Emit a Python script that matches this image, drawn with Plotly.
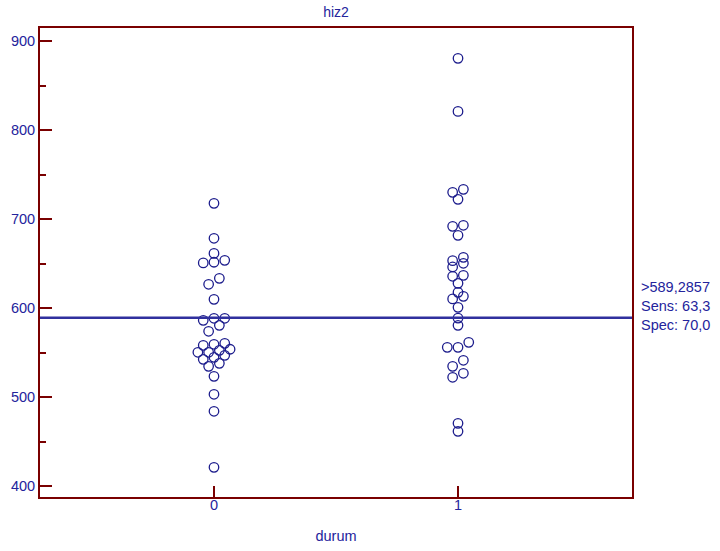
import plotly.graph_objects as go

# ---- data ----
categories = ["0", "1"]
group0_values = [718.0, 678.7, 661.8, 653.9, 651.8, 651.0, 633.7, 627.0, 610.1,
                 588.8, 588.8, 586.5, 580.9, 574.2, 560.7, 559.6, 558.4, 554.0,
                 552.8, 550.6, 550.6, 547.2, 544.9, 542.7, 538.2, 534.8, 523.6,
                 503.4, 484.3, 421.3]
group1_values = [880.9, 821.3, 733.7, 730.3, 722.5, 693.3, 692.1, 682.0, 657.3,
                 653.6, 650.6, 646.5, 637.1, 636.0, 628.1, 618.0, 613.5, 610.6,
                 601.1, 589.0, 580.9, 561.8, 556.2, 556.2, 541.6, 534.8, 527.0,
                 522.5, 470.8, 461.8]
criterion = 589.2857
y_ticks = [400, 500, 600, 700, 800, 900]

# ---- statistics for the label ----
sens = 100.0 * sum(v > criterion for v in group1_values) / len(group1_values)
spec = 100.0 * sum(v <= criterion for v in group0_values) / len(group0_values)
fmt = lambda v, d: f"{v:.{d}f}".replace(".", ",")

# ---- simple row-based beeswarm layout ----
ROW_WINDOW = 7.0   # value units grouped into one row
SLOT = 0.022       # half-spacing between neighbours (x units)


def swarm(values, center):
    xs = [None] * len(values)
    order = sorted(range(len(values)), key=lambda i: values[i])

    def flush(row):
        k = len(row)
        for j, i in enumerate(sorted(row, key=lambda i: values[i])):
            xs[i] = center + (2 * j - (k - 1)) * SLOT

    row = []
    for i in order:
        if row and values[i] - values[row[0]] >= ROW_WINDOW:
            flush(row)
            row = []
        row.append(i)
    if row:
        flush(row)
    return xs


NAVY = "#1c1c8c"
TXT = "#24249c"
AXIS = "#7a0000"
FONT = "Liberation Sans, Arial, sans-serif"

fig = go.Figure()
for k, vals in enumerate([group0_values, group1_values]):
    fig.add_trace(go.Scatter(
        x=swarm(vals, k), y=vals, mode="markers",
        marker=dict(symbol="circle-open", size=9.5, color=NAVY,
                    line=dict(width=1.3, color=NAVY)),
        showlegend=False, hoverinfo="y", cliponaxis=False))

fig.add_shape(type="line", xref="paper", x0=0, x1=1, yref="y",
              y0=criterion, y1=criterion,
              line=dict(color="#30309e", width=2.5), layer="above")

fig.add_annotation(
    xref="paper", x=1, xanchor="left", xshift=7,
    yref="y", y=criterion, yanchor="middle", yshift=12,
    text=f">{fmt(criterion, 4)}<br>Sens: {fmt(sens, 1)}<br>Spec: {fmt(spec, 1)}",
    showarrow=False, align="left",
    font=dict(family=FONT, size=14.5, color=TXT))

fig.update_layout(
    width=720, height=551,
    margin=dict(l=40, r=88, t=28, b=54, autoexpand=False),
    paper_bgcolor="white", plot_bgcolor="white",
    font=dict(family=FONT, size=14.5, color=TXT),
    title=dict(text="hiz2", x=0.5, xref="paper", xanchor="center",
               y=1 - 12 / 551, yref="container", yanchor="middle",
               font=dict(family=FONT, size=14, color=TXT)),
    xaxis=dict(range=[-0.713, 1.713], tickvals=[0, 1], ticktext=categories,
               ticks="inside", ticklen=11, tickwidth=2, tickcolor=AXIS,
               showline=True, linecolor=AXIS, linewidth=2, mirror=True,
               showgrid=False, zeroline=False, ticklabelstandoff=-6,
               automargin=False,
               title=dict(text="durum", standoff=18,
                          font=dict(family=FONT, size=14.5, color=TXT))),
    yaxis=dict(range=[388, 915], tickvals=y_ticks,
               ticks="inside", ticklen=12, tickwidth=2, tickcolor=AXIS,
               minor=dict(ticks="inside", ticklen=6, tickwidth=1.5,
                          tickcolor=AXIS, dtick=50, tick0=50),
               showline=True, linecolor=AXIS, linewidth=2, mirror=True,
               showgrid=False, zeroline=False, ticklabelstandoff=0,
               automargin=False),
)

# remove the default page margin so the figure sits at the window origin
fig.write_html("out.html",
               config={"displayModeBar": False},
               post_script="document.body.style.margin='0';"
                           "document.body.style.overflow='hidden';")
